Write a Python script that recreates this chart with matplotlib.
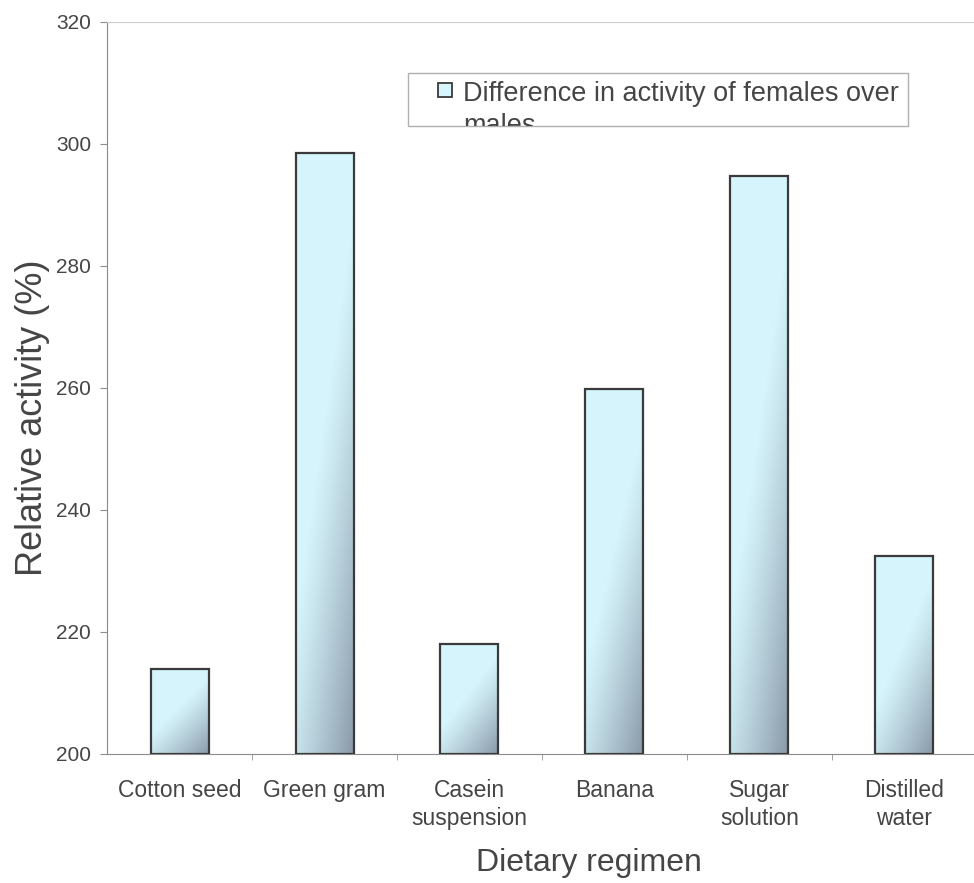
import numpy as np
import matplotlib
matplotlib.use("Agg")
import matplotlib.pyplot as plt
from matplotlib.patches import Rectangle

# datos
categorias = ["Cotton seed", "Green gram", "Casein\nsuspension", "Banana",
              "Sugar\nsolution", "Distilled\nwater"]
valores = [214.0, 298.5, 218.0, 259.8, 294.8, 232.5]
yticks = [200, 220, 240, 260, 280, 300, 320]
leyenda = "Difference in activity of females over\nmales"

plt.rcParams["font.family"] = ["Liberation Sans", "DejaVu Sans"]
gris = "#454545"

claro = np.array([0.84, 0.96, 0.99])
oscuro = np.array([0.54, 0.60, 0.66])


def degradado(nfil, ncol):
    # degradado diagonal: claro arriba a la izquierda, gris abajo a la derecha
    yy, xx = np.mgrid[0:1:nfil * 1j, 0:1:ncol * 1j]
    t = np.clip(((0.8 * xx + 1.2 * yy) / 2 - 0.45) / 0.55, 0, 1) ** 1.2
    return claro + (oscuro - claro) * t[..., None]


fig = plt.figure(figsize=(9.74, 8.83), dpi=100)
ax = fig.add_axes([0.1099, 0.1461, 0.8931, 0.8290])

x = np.arange(len(categorias))
barras = ax.bar(x, np.array(valores) - 200, bottom=200, width=0.4,
                facecolor="none", edgecolor="#3a3a3a", linewidth=1.6, zorder=3)
for b in barras:
    img = ax.imshow(degradado(200, 60),
                    extent=(b.get_x(), b.get_x() + b.get_width(),
                            b.get_y(), b.get_y() + b.get_height()),
                    aspect="auto", origin="upper", zorder=2, interpolation="bilinear")
    img.set_clip_path(b)

ax.set_xlim(-0.5, len(categorias) - 0.5)
ax.set_ylim(yticks[0], yticks[-1])
ax.set_yticks(yticks)
ax.set_xticks(x, categorias)
for et in ax.get_xticklabels():
    et.set_linespacing(1.3)
ax.set_xticks(np.arange(0.5, len(categorias) - 0.5, 1), minor=True)
ax.tick_params(axis="x", which="major", length=0, pad=18, labelsize=16.5, labelcolor=gris)
ax.tick_params(axis="x", which="minor", length=4, color="#909090")
ax.tick_params(axis="y", length=5, color="#909090", pad=6.5, labelsize=15, labelcolor=gris)

for lado in ["left", "bottom"]:
    ax.spines[lado].set_color("#8a8a8a")
ax.spines["top"].set_color("#cccccc")
ax.spines["right"].set_visible(False)

ax.set_ylabel("Relative activity (%)", fontsize=26, color=gris)
ax.yaxis.set_label_coords(-0.066, 0.46)
ax.set_xlabel("Dietary regimen", fontsize=23, color=gris)
ax.xaxis.set_label_coords(0.554, -0.128)

# leyenda con el texto recortado por el marco
marco = Rectangle((0.346, 0.858), 0.575, 0.072, transform=ax.transAxes,
                  facecolor="white", edgecolor="#b0b0b0", linewidth=1, zorder=5)
ax.add_patch(marco)
muestra = Rectangle((0.380, 0.898), 0.016, 0.019, transform=ax.transAxes,
                    facecolor=claro, edgecolor="#3a3a3a", linewidth=1.3, zorder=6)
ax.add_patch(muestra)
txt = ax.text(0.409, 0.920, leyenda, transform=ax.transAxes, va="top", ha="left",
              fontsize=19.5, color=gris, zorder=6, linespacing=1.32, clip_on=True)
txt.set_clip_path(marco)

fig.savefig("out.png", dpi=100)
